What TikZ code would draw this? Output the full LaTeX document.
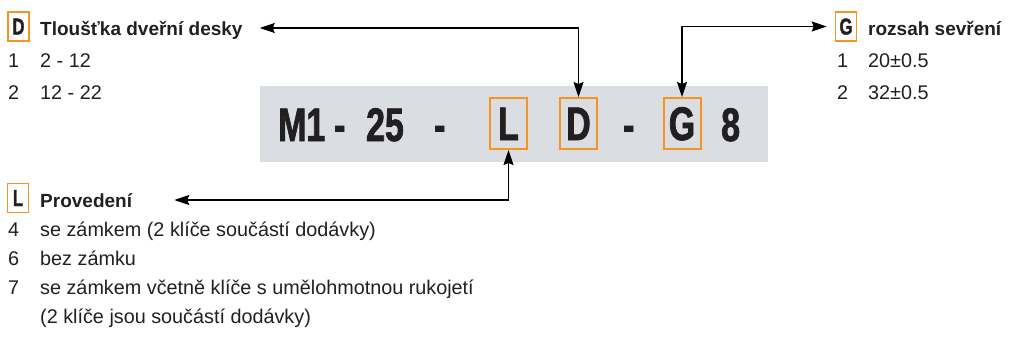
\documentclass[tikz,border=0pt]{standalone}
\usepackage{fontspec}
\setmainfont{Liberation Sans}
\newfontfamily\condfont[FakeStretch=0.72,BoldFeatures={FakeBold=1.6}]{Liberation Sans}
\usetikzlibrary{arrows.meta}

\definecolor{codeorange}{RGB}{247,148,29}
\definecolor{codegrey}{RGB}{218,221,225}
\definecolor{inkgrey}{RGB}{35,31,32}

\begin{document}
\begin{tikzpicture}[x=1pt, y=-1pt, inner sep=0pt, text=inkgrey,
    bigchar/.style={anchor=base west, font=\condfont\bfseries\fontsize{47}{47}\selectfont},
    bigbox/.style={draw=codeorange, line width=2pt, minimum width=37pt, minimum height=51pt,
        text height=33pt, text depth=0pt, font=\condfont\bfseries\fontsize{47}{47}\selectfont},
    headbox/.style={draw=codeorange, line width=1.6pt, minimum width=21pt, minimum height=29pt,
        text height=16pt, text depth=0pt, font=\condfont\bfseries\fontsize{23}{23}\selectfont},
    headtitle/.style={anchor=base west, text height=14pt, text depth=0pt,
        font=\bfseries\fontsize{19}{19}\selectfont},
    item/.style={anchor=base west, font=\fontsize{19.8}{19.8}\selectfont},
    link/.style={{Stealth[length=15pt,width=10pt,inset=2pt]}-{Stealth[length=15pt,width=10pt,inset=2pt]},
        line width=1.2pt, draw=black}]
    \useasboundingbox (0,0) rectangle (1020,341);

    % code strip
    \fill[codegrey] (260,86) rectangle (768,162);
    \node[bigchar] (m1)    at (278,141) {M1};
    \node[bigchar] (dash1) at (334,141) {-};
    \node[bigchar] (n25)   at (366,141) {25};
    \node[bigchar] (dash2) at (434,141) {-};
    \node[bigbox]  (Lbig)  at (508.5,123.5) {L};
    \node[bigbox]  (Dbig)  at (578.5,123.5) {D};
    \node[bigchar] (dash3) at (623,141) {-};
    \node[bigbox]  (Gbig)  at (682,123.5) {G};
    \node[bigchar] (n8)    at (721,141) {8};

    % headings
    \node[headbox]   (Dhead)  at (18.5,26.5) {D};
    \node[headtitle] (Dtitle) at (40,35) {Tloušťka dveřní desky};
    \node[headbox]   (Ghead)  at (846,26.5) {G};
    \node[headtitle] (Gtitle) at (868,35) {rozsah sevření};
    \node[headbox]   (Lhead)  at (18,198) {L};
    \node[headtitle] (Ltitle) at (40,207) {Provedení};

    % option lists
    \foreach \y/\num/\txt in {67/1/2 - 12, 99/2/12 - 22} {
        \node[item] (dnum\num) at (8,\y) {\num};
        \node[item] (dtxt\num) at (40,\y) {\txt};
    }
    \foreach \y/\num/\txt in {67/1/20±0.5, 99/2/32±0.5} {
        \node[item] (gnum\num) at (837,\y) {\num};
        \node[item] (gtxt\num) at (868,\y) {\txt};
    }
    \foreach \y/\num/\txt in {236/4/se zámkem (2 klíče součástí dodávky),
                              265/6/bez zámku,
                              294/7/se zámkem včetně klíče s umělohmotnou rukojetí} {
        \node[item] (lnum\num) at (8,\y) {\num};
        \node[item] (ltxt\num) at (40,\y) {\txt};
    }
    \node[item] (lnote) at (40,323) {(2 klíče jsou součástí dodávky)};

    % pointers
    \draw[link] ([xshift=17pt]Dtitle.east) -| (Dbig.north);
    \draw[link] ([xshift=-8pt]Ghead.west) -| (Gbig.north);
    \draw[link] ([xshift=42pt]Ltitle.east) -| (Lbig.south);
\end{tikzpicture}
\end{document}
